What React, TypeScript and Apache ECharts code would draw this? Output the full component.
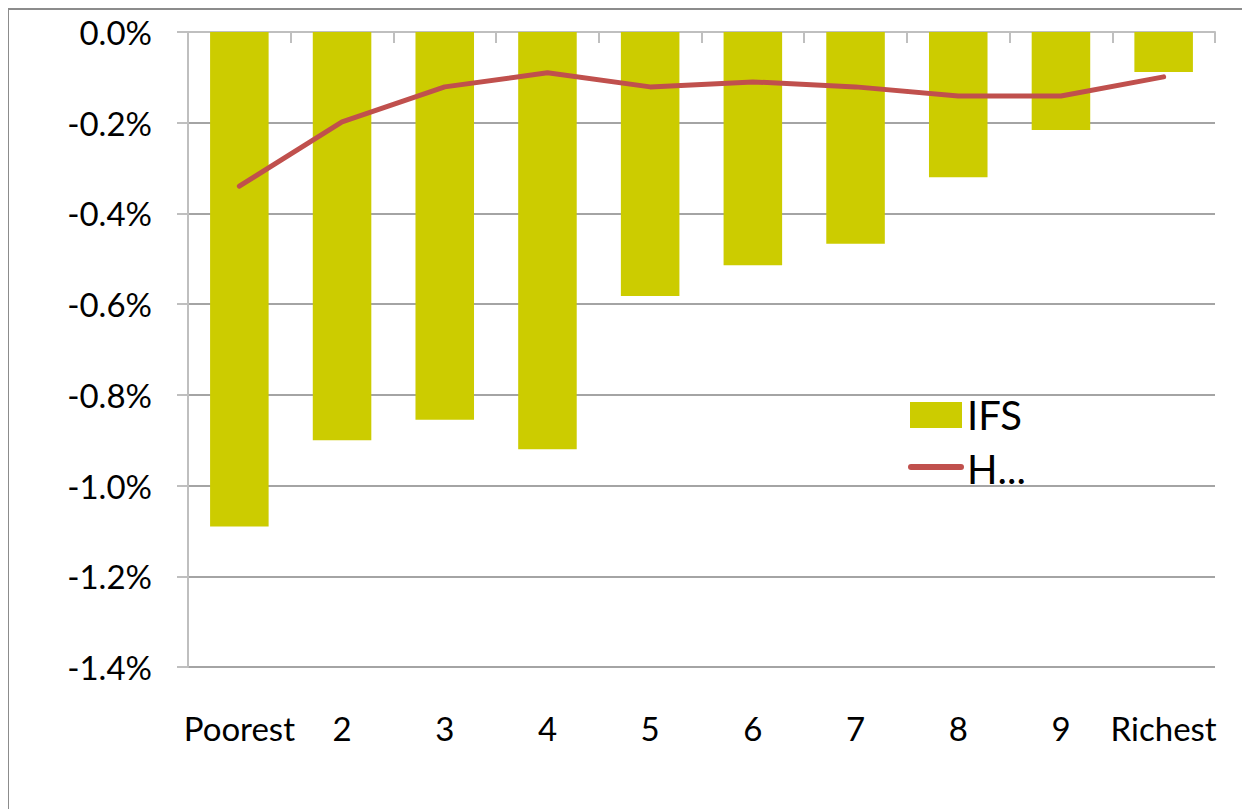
import React, { useEffect, useRef } from "react";
import * as echarts from "echarts";

const categories = ["Poorest", "2", "3", "4", "5", "6", "7", "8", "9", "Richest"];
const ifsValues = [-1.09, -0.9, -0.855, -0.92, -0.582, -0.514, -0.467, -0.32, -0.216, -0.088];
const hValues = [-0.34, -0.198, -0.121, -0.09, -0.121, -0.11, -0.121, -0.141, -0.141, -0.099];
const seriesNames = ["IFS", "H..."];

const FONT = "Lato";
const BAR_COLOR = "#cccc00";
const LINE_COLOR = "#c0504d";

export default function App() {
  const ref = useRef<HTMLDivElement>(null);
  useEffect(() => {
    if (!ref.current) return;
    const chart = echarts.init(ref.current, null, { renderer: "svg" });
    chart.setOption({
      animation: false,
      backgroundColor: "#ffffff",
      textStyle: { fontFamily: FONT, color: "#000" },
      legend: { show: false },
      graphic: [
        {
          type: "rect",
          shape: { x: 0, y: 1, width: 1400, height: 1000 },
          style: { fill: "none", stroke: "#8c8c8c", lineWidth: 2 },
          silent: true,
          z: -10,
        },
        {
          type: "rect",
          shape: { x: 902, y: 394, width: 52, height: 26 },
          style: { fill: BAR_COLOR },
          z: 20,
        },
        {
          type: "text",
          x: 959,
          y: 407,
          style: {
            text: seriesNames[0],
            font: `40px ${FONT}`,
            fill: "#000",
            textVerticalAlign: "middle",
            verticalAlign: "middle",
          },
          z: 20,
        },
        {
          type: "line",
          shape: { x1: 903, y1: 459, x2: 953, y2: 459 },
          style: { stroke: LINE_COLOR, lineWidth: 6, lineCap: "round" },
          z: 20,
        },
        {
          type: "text",
          x: 959,
          y: 461,
          style: {
            text: seriesNames[1],
            font: `40px ${FONT}`,
            fill: "#000",
            textVerticalAlign: "middle",
            verticalAlign: "middle",
          },
          z: 20,
        },
      ],
      grid: { left: 180, top: 24, width: 1027, height: 635, containLabel: false },
      xAxis: [
        {
          type: "category",
          data: categories,
          position: "top",
          axisLine: { show: true, onZero: false, lineStyle: { color: "#bfbfbf", width: 2 } },
          axisTick: { show: true, inside: true, length: 11, lineStyle: { color: "#bfbfbf", width: 2 } },
          axisLabel: { show: false },
          splitLine: { show: false },
        },
        {
          type: "category",
          data: categories,
          position: "bottom",
          axisLine: { show: false, onZero: false },
          axisTick: { show: false },
          axisLabel: { show: true, margin: 44, fontFamily: FONT, fontSize: 33, color: "#000", interval: 0 },
          splitLine: { show: false },
        },
      ],
      yAxis: {
        type: "value",
        min: -1.4,
        max: 0,
        interval: 0.2,
        axisLine: { show: true, lineStyle: { color: "#bfbfbf", width: 2 } },
        axisTick: { show: true, length: 11, lineStyle: { color: "#bfbfbf", width: 2 } },
        axisLabel: {
          margin: 36,
          fontFamily: FONT,
          fontSize: 33,
          color: "#000",
          formatter: (v: number) => {
            const r = Math.round(v * 10) / 10;
            return (r === 0 ? "0.0" : r.toFixed(1)) + "%";
          },
        },
        splitLine: { show: true, lineStyle: { color: "#868686", width: 1.5 } },
      },
      series: [
        {
          name: seriesNames[0],
          type: "bar",
          xAxisIndex: 0,
          data: ifsValues,
          barCategoryGap: "43%",
          itemStyle: { color: BAR_COLOR },
        },
        {
          name: seriesNames[1],
          type: "line",
          xAxisIndex: 0,
          data: hValues,
          symbol: "none",
          lineStyle: { color: LINE_COLOR, width: 5, cap: "round", join: "round" },
          itemStyle: { color: LINE_COLOR },
          z: 5,
        },
      ],
    });
    return () => chart.dispose();
  }, []);
  return <div ref={ref} style={{ width: 1250, height: 809 }} />;
}
